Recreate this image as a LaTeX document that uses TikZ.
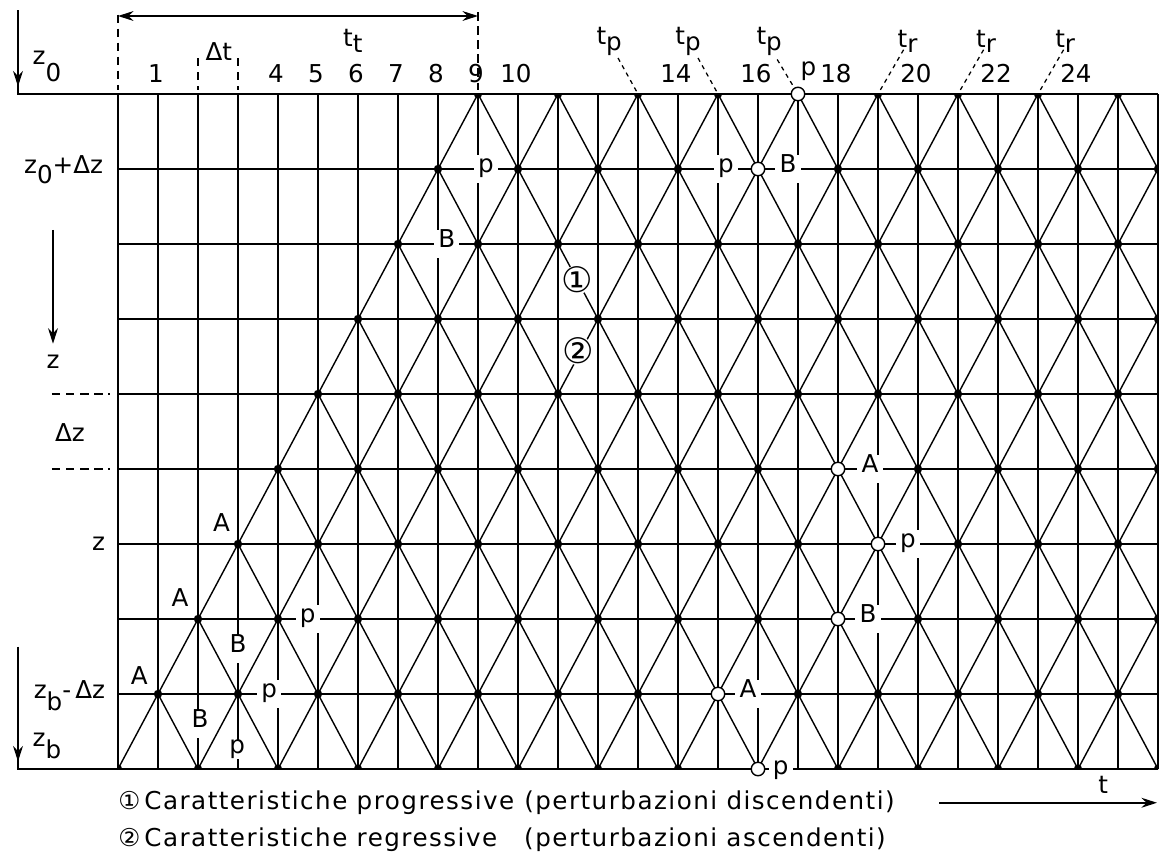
\documentclass[tikz,border=0pt]{standalone}
\usepackage{fontspec}
\setmainfont{DejaVu Sans}
\newfontfamily\legendfont{DejaVu Sans}[LetterSpace=6]
\usetikzlibrary{arrows.meta}
\newcommand{\lo}[2][0.9ex]{\raisebox{-#1}{#2}}

\begin{document}
\begin{tikzpicture}[x=1cm, y=-1.875cm, font=\fontsize{17.5}{20}\selectfont,
  gridline/.style={line width=1.3pt},
  charline/.style={line width=1pt},
  guide/.style={line width=1pt, dash pattern=on 6pt off 4pt},
  guideshort/.style={line width=0.9pt, dash pattern=on 3pt off 3pt},
  arr/.style={line width=1.3pt, -{Stealth[length=11pt, width=7pt]}},
  hollow/.style={circle, draw, line width=1pt, fill=white, minimum size=9.6pt, inner sep=0pt},
  gap/.style={fill=white, inner xsep=3pt, inner ysep=5pt, text height=0.73em, text depth=0.2em},
  charmark/.style={circle, fill=white, inner sep=-3pt, font=\fontsize{25}{25}\selectfont}]
\useasboundingbox (-2.95,-1.2533) rectangle (26.075,10.2267);

\foreach \k in {0,...,26}
  \foreach \j in {0,...,9}
    \coordinate (g-\k-\j) at (\k,\j);

\foreach \k in {0,...,26}
  \draw[gridline] (g-\k-0) -- (g-\k-9);
\foreach \j in {0,...,9}
  \draw[gridline] (g-0-\j) -- (g-26-\j);

\foreach \j in {0,...,8}{
  \foreach \k in {0,...,26}{
    \pgfmathtruncatemacro{\sm}{\k+\j}
    \pgfmathtruncatemacro{\od}{mod(\sm,2)}
    \pgfmathtruncatemacro{\jn}{\j+1}
    \pgfmathtruncatemacro{\kr}{\k+1}
    \pgfmathtruncatemacro{\kl}{\k-1}
    \ifnum\od=1\relax\ifnum\sm>8\relax
      \ifnum\k<26\relax\draw[charline] (g-\k-\j) -- (g-\kr-\jn);\fi
      \ifnum\k>0\relax\draw[charline] (g-\k-\j) -- (g-\kl-\jn);\fi
    \fi\fi
  }
}

\begin{scope}
  \clip (g-0-0) rectangle (g-26-9);
  \foreach \j in {0,...,9}{
    \foreach \k in {0,...,26}{
      \pgfmathtruncatemacro{\sm}{\k+\j}
      \pgfmathtruncatemacro{\od}{mod(\sm,2)}
      \ifnum\od=1\relax\ifnum\sm>8\relax
        \fill (g-\k-\j) circle (3pt);
      \fi\fi
    }
  }
\end{scope}

\coordinate (tp1-end) at (12.5,-0.48);
\coordinate (tp2-end) at (14.5,-0.48);
\coordinate (tp3-end) at (16.48,-0.46);
\coordinate (tr1-end) at (19.64,-0.59);
\coordinate (tr2-end) at (21.64,-0.59);
\coordinate (tr3-end) at (23.64,-0.59);
\draw[guideshort] (tp1-end) -- (g-13-0);
\draw[guideshort] (tp2-end) -- (g-15-0);
\draw[guideshort] (tp3-end) -- (g-17-0);
\draw[guideshort] (tr1-end) -- (g-19-0);
\draw[guideshort] (tr2-end) -- (g-21-0);
\draw[guideshort] (tr3-end) -- (g-23-0);
\node (tp1) at (12.28,-0.7) {t\lo[0.4ex]{p}};
\node (tp2) at (14.25,-0.7) {t\lo[0.4ex]{p}};
\node (tp3) at (16.28,-0.7) {t\lo[0.4ex]{p}};
\node (tr1) at (19.74,-0.7) {t\lo[0.4ex]{r}};
\node (tr2) at (21.70,-0.7) {t\lo[0.4ex]{r}};
\node (tr3) at (23.68,-0.7) {t\lo[0.4ex]{r}};

\node[hollow] (o1) at (g-17-0) {};
\node[hollow] (o2) at (g-16-1) {};
\node[hollow] (o3) at (g-18-5) {};
\node[hollow] (o4) at (g-19-6) {};
\node[hollow] (o5) at (g-18-7) {};
\node[hollow] (o6) at (g-15-8) {};
\node[hollow] (o7) at (g-16-9) {};
\node (ptop) at (17.26,-0.3) {p};

\node[gap] (p1) at (9.2,1) {p};
\node[gap] (b1) at (8.22,2) {B};
\node[gap] (p2) at (15.2,1) {p};
\node[gap] (b2) at (16.75,1) {B};
\node[gap] (a1) at (18.8,5) {A};
\node[gap] (p3) at (19.75,6) {p};
\node[gap] (b3) at (18.75,7) {B};
\node[gap] (a2) at (15.75,8) {A};
\node[gap] (p4) at (16.57,9.02) {p};
\node[gap] (b4) at (3,7.4) {B};
\node[gap] (b5) at (2.05,8.4) {B};
\node[gap, inner ysep=2pt] (p5) at (2.98,8.74) {p};
\node[gap] (p6) at (3.78,8) {p};
\node[gap] (p7) at (4.74,7) {p};
\node (a3) at (2.59,5.72) {A};
\node (a4) at (1.55,6.72) {A};
\node (a5) at (0.53,7.75) {A};

\node[charmark] (c1) at (11.47,2.48) {①};
\node[charmark] (c2) at (11.5,3.42) {②};

\foreach \n in {1,4,5,6,7,8,9,10,14,16,18,20,22,24}
  \node (n\n) at (\n-0.05,-0.27) {\n};

\coordinate (tt-l) at (0,-1.04);
\coordinate (tt-r) at (9,-1.04);
\draw[line width=1pt, {Stealth[length=11pt, width=7pt]}-{Stealth[length=11pt, width=7pt]}] (tt-l) -- (tt-r);
\draw[guide] (0,-1.06) -- (0,-0.05);
\draw[guide] (9,-1.09) -- (9,-0.05);
\draw[guide] (2,-0.48) -- (2,-0.05);
\draw[guide] (3,-0.48) -- (3,-0.05);
\node (tt) at (5.87,-0.71) {t\lo[0.4ex]{t}};
\node (dt) at (2.52,-0.56) {Δt};

\coordinate (ztop) at (-2.5,-1.12);
\coordinate (zcorner) at (-2.5,0);
\coordinate (ztip) at (-2.5,-0.1);
\draw[gridline] (ztop) -- (zcorner) -- (g-0-0);
\draw[arr] (ztop) -- (ztip);
\coordinate (zbtop) at (-2.5,7.37);
\coordinate (zbcorner) at (-2.5,9);
\coordinate (zbtip) at (-2.5,8.9);
\draw[gridline] (zbtop) -- (zbcorner) -- (g-0-9);
\draw[arr] (zbtop) -- (zbtip);
\coordinate (zmid-a) at (-1.625,1.81);
\coordinate (zmid-b) at (-1.625,3.33);
\draw[arr] (zmid-a) -- (zmid-b);
\node (zmid) at (-1.625,3.57) {z};
\draw[guide] (-1.65,4) -- (-0.2,4);
\draw[guide] (-1.65,5) -- (-0.2,5);
\node (dz) at (-1.2,4.52) {Δz};

\node (lz0) at (-1.775,-0.37) {z\lo[1.3ex]{0}};
\node[anchor=east] (lz1) at (-0.25,1.01) {z\lo[0.7ex]{0}+Δz};
\node[anchor=east] (lz) at (-0.2,6) {z};
\node[anchor=east] (lzb1) at (-0.2,8.02) {z\lo[0.9ex]{b}-\,Δz};
\node (lzb) at (-1.775,8.69) {z\lo[0.9ex]{b}};

\coordinate (t-start) at (20.525,9.45);
\coordinate (t-end) at (25.975,9.45);
\draw[arr] (t-start) -- (t-end);
\node (tlab) at (24.63,9.21) {t};

\node[anchor=west, inner sep=0pt] (leg1) at (0,9.453) {\legendfont\makebox[10.15cm][l]{①\,Caratteristiche progressive}(perturbazioni discendenti)};
\node[anchor=west, inner sep=0pt] (leg2) at (0,9.947) {\legendfont\makebox[10.15cm][l]{②\,Caratteristiche regressive}(perturbazioni ascendenti)};
\end{tikzpicture}
\end{document}
